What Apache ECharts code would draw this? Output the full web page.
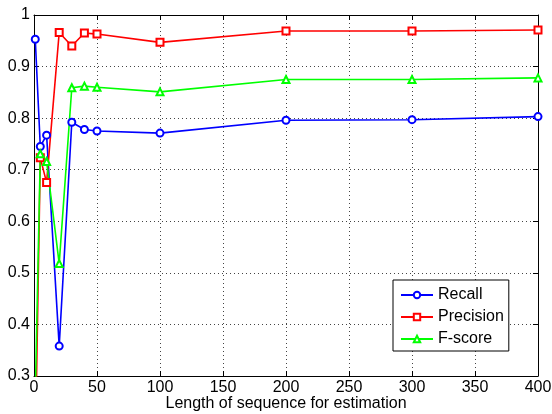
<!DOCTYPE html>
<html>
<head>
<meta charset="utf-8">
<script src="https://cdn.jsdelivr.net/npm/echarts@6/dist/echarts.min.js"></script>
<style>html,body{margin:0;padding:0;background:#fff;}#c{width:552px;height:414px;}</style>
</head>
<body>
<div id="c"></div>
<script>
const xValues = [1, 5, 10, 20, 30, 40, 50, 100, 200, 300, 400];
const recall = [0.953, 0.745, 0.767, 0.358, 0.792, 0.778, 0.775, 0.771, 0.796, 0.797, 0.803];
const precision = [0.15, 0.723, 0.675, 0.966, 0.94, 0.965, 0.963, 0.947, 0.969, 0.969, 0.971];
const fscore = [0.26, 0.731, 0.716, 0.518, 0.859, 0.862, 0.86, 0.851, 0.875, 0.875, 0.878];
const seriesNames = ['Recall', 'Precision', 'F-score'];
const xTitle = 'Length of sequence for estimation';

const font = 'Liberation Sans, Arial, Helvetica, sans-serif';
const chart = echarts.init(document.getElementById('c'));
function mk(name, vals, color, symbol) {
  return {
    name: name, type: 'line', data: xValues.map((x, i) => [x, vals[i]]),
    symbol: symbol, symbolSize: 7, clip: true,
    lineStyle: { color: color, width: 1.6 },
    itemStyle: { color: color, borderColor: color, borderWidth: 1.2 },
    emphasis: { disabled: true }, animation: false
  };
}
const gridLine = { show: true, lineStyle: { color: '#444', type: [1, 3], width: 1 } };
chart.setOption({
  animation: false,
  grid: { left: 34, right: 14, top: 15, bottom: 38, containLabel: false, outerBoundsMode: 'none' },
  xAxis: [
    { type: 'value', min: 0, max: 400, interval: 50, position: 'bottom',
      name: xTitle, nameLocation: 'middle', nameGap: 20, nameMoveOverlap: false,
      nameTextStyle: { fontFamily: font, fontSize: 16, lineHeight: 16, color: '#000' },
      axisLine: { show: true, onZero: false, lineStyle: { color: '#000', width: 1 } },
      axisTick: { show: true, inside: true, length: 5, lineStyle: { color: '#000' } },
      axisLabel: { fontFamily: font, fontSize: 16, color: '#000', margin: 4 },
      splitLine: gridLine },
    { type: 'value', min: 0, max: 400, interval: 50, position: 'top',
      axisLine: { show: true, onZero: false, lineStyle: { color: '#000', width: 1 } },
      axisTick: { show: true, inside: true, length: 5, lineStyle: { color: '#000' } },
      axisLabel: { show: false }, splitLine: { show: false } }
  ],
  yAxis: [
    { type: 'value', min: 0.3, max: 1, interval: 0.1, position: 'left',
      axisLine: { show: true, onZero: false, lineStyle: { color: '#000', width: 1 } },
      axisTick: { show: true, inside: true, length: 5, lineStyle: { color: '#000' } },
      axisLabel: { fontFamily: font, fontSize: 16, color: '#000', margin: 4,
        formatter: v => String(Math.round(v * 10) / 10) },
      splitLine: gridLine },
    { type: 'value', min: 0.3, max: 1, interval: 0.1, position: 'right',
      axisLine: { show: true, onZero: false, lineStyle: { color: '#000', width: 1 } },
      axisTick: { show: true, inside: true, length: 5, lineStyle: { color: '#000' } },
      axisLabel: { show: false }, splitLine: { show: false } }
  ],
  legend: {
    orient: 'vertical', left: 393, top: 280,
    backgroundColor: '#fff', borderColor: '#000', borderWidth: 1,
    padding: [6, 5, 3, 7], itemGap: 4, itemWidth: 32, itemHeight: 8,
    textStyle: { fontFamily: font, fontSize: 16, lineHeight: 18, color: '#000' },
    data: seriesNames
  },
  series: [
    mk(seriesNames[0], recall, '#0000ff', 'emptyCircle'),
    mk(seriesNames[1], precision, '#ff0000', 'emptyRect'),
    mk(seriesNames[2], fscore, '#00ff00', 'emptyTriangle')
  ]
});
</script>
</body>
</html>
